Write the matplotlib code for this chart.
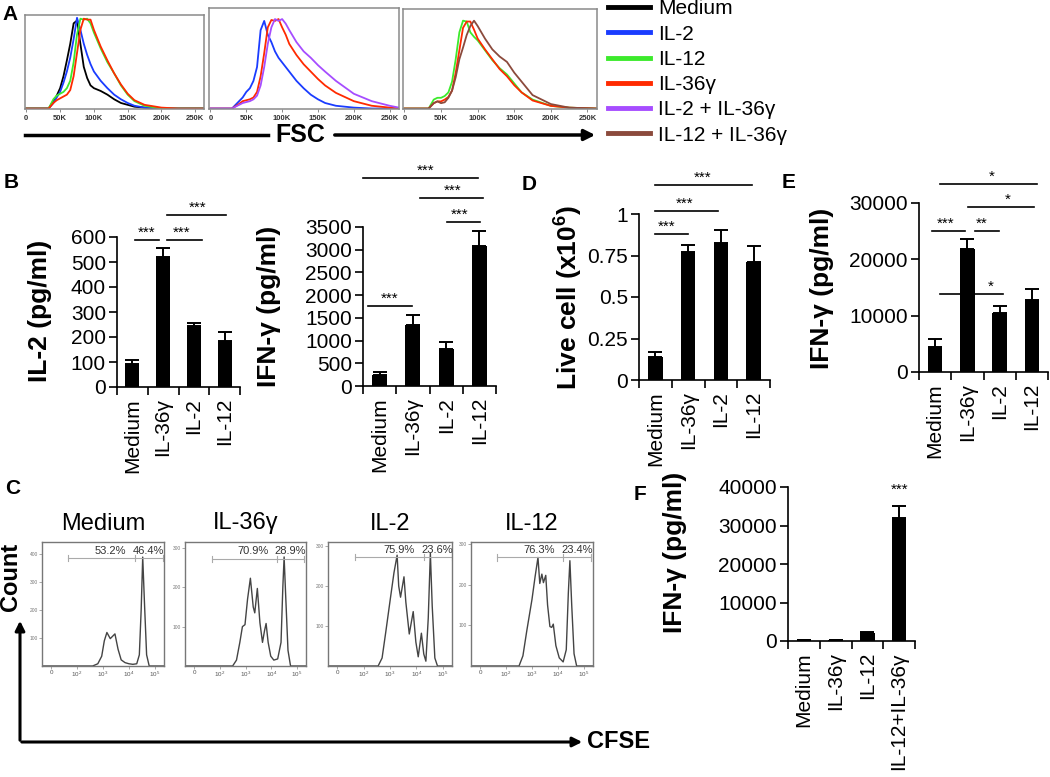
import numpy as np
import matplotlib
matplotlib.use("Agg")
import matplotlib.pyplot as plt

plt.rcParams["font.family"] = ["Liberation Sans", "DejaVu Sans"]
plt.rcParams["mathtext.fontset"] = "custom"
plt.rcParams["mathtext.rm"] = "Liberation Sans"
plt.rcParams["mathtext.bf"] = "Liberation Sans:bold"

W, H = 1050, 777

# ---------------- A: FSC histograms (% of mode), x in K ----------------
fsc_x1 = [0, 33, 40, 45, 50, 55, 60, 65, 70, 75, 80, 85, 90, 95, 100, 110, 120, 130, 140, 150, 160, 175, 200, 225, 262]
fsc_medium = [0, 0, 8, 14, 22, 35, 52, 70, 92, 95, 70, 45, 33, 25, 22, 19, 15, 10, 6, 4, 2, 1, 0, 0, 0]
fsc_il2_a = [0, 0, 6, 12, 18, 28, 40, 55, 75, 98, 85, 70, 58, 48, 40, 30, 22, 15, 10, 6, 3, 1, 0, 0, 0]
fsc_il12_a = [0, 0, 10, 14, 16, 18, 22, 30, 50, 80, 97, 96, 97, 92, 82, 65, 50, 38, 25, 15, 8, 3, 0, 0, 0]
fsc_il36_a = [0, 0, 6, 9, 11, 13, 15, 20, 35, 60, 85, 97, 96, 96, 85, 67, 52, 38, 26, 16, 9, 4, 1, 0, 0]

fsc_x2 = [0, 30, 40, 45, 50, 55, 60, 65, 70, 75, 80, 85, 90, 95, 100, 105, 110, 120, 130, 140, 150, 160, 175, 200, 225, 250, 263]
fsc_il2_b = [0, 0, 8, 12, 18, 22, 30, 45, 85, 95, 80, 72, 62, 55, 50, 45, 40, 30, 22, 15, 10, 6, 3, 1, 0, 0, 0]
fsc_il36_b = [0, 0, 5, 8, 9, 10, 12, 18, 35, 60, 88, 96, 95, 97, 88, 80, 70, 58, 48, 40, 32, 25, 17, 8, 3, 1, 0]
fsc_il2_il36 = [0, 0, 4, 6, 7, 8, 10, 14, 25, 45, 70, 88, 97, 95, 97, 92, 85, 72, 62, 55, 47, 40, 30, 16, 8, 3, 1]

fsc_x3 = [0, 33, 40, 45, 50, 55, 60, 65, 70, 75, 80, 85, 90, 95, 100, 110, 120, 130, 140, 150, 160, 175, 200, 225, 263]
fsc_il12_c = [0, 0, 10, 12, 12, 14, 18, 30, 55, 85, 98, 97, 85, 80, 76, 65, 54, 45, 38, 28, 18, 10, 3, 1, 0]
fsc_il36_c = [0, 0, 6, 8, 8, 10, 13, 20, 40, 65, 90, 97, 97, 88, 78, 66, 55, 44, 36, 26, 18, 9, 3, 1, 0]
fsc_il12_il36 = [0, 0, 6, 8, 6, 7, 12, 20, 35, 55, 68, 82, 92, 98, 92, 78, 66, 58, 52, 40, 30, 15, 5, 1, 0]

fsc_ticks = [0, 50, 100, 150, 200, 250]
fsc_ticklabels = ["0", "50K", "100K", "150K", "200K", "250K"]

legend_labels = ["Medium", "IL-2", "IL-12", "IL-36γ", "IL-2 + IL-36γ", "IL-12 + IL-36γ"]
legend_colors = ["#000000", "#1a3cff", "#3cea2c", "#ff2a00", "#a64dff", "#8b4a3c"]

# ---------------- B ----------------
b_cats = ["Medium", "IL-36γ", "IL-2", "IL-12"]
b_il2 = [92, 520, 244, 184]
b_il2_err = [16, 36, 12, 36]
b_il2_sig = [(0.07, 0.88, 588, 0.47, "***"), (1.14, 2.25, 588, 1.6, "***"), (1.14, 3.03, 688, 2.13, "***")]
b_ifn = [240, 1343, 815, 3082]
b_ifn_err = [70, 220, 155, 330]
b_ifn_sig = [(-0.5, 2.96, 4580, 1.37, "***"), (1.22, 3.11, 4140, 2.18, "***"),
             (2.03, 3.02, 3610, 2.42, "***"), (-0.35, 0.98, 1760, 0.31, "***")]

# ---------------- D ----------------
d_cats = ["Medium", "IL-36γ", "IL-2", "IL-12"]
d_live = [0.139, 0.771, 0.825, 0.711]
d_live_err = [0.03, 0.042, 0.079, 0.096]
d_sig = [(0.0, 1.0, 0.88, 0.35, "***"), (0.0, 1.91, 1.018, 0.9, "***"), (0.0, 2.95, 1.175, 1.45, "***")]

# ---------------- E ----------------
e_cats = ["Medium", "IL-36γ", "IL-2", "IL-12"]
e_ifn = [4440, 21830, 10470, 12780]
e_ifn_err = [1420, 1780, 1250, 1950]
e_sig = [(-0.1, 0.93, 25030, 0.31, "***"), (1.24, 1.98, 25030, 1.45, "**"),
         (0.15, 2.1, 13850, 1.73, "*"), (0.15, 3.16, 33370, 1.76, "*"), (1.02, 3.07, 29290, 2.26, "*")]

# ---------------- F ----------------
f_cats = ["Medium", "IL-36γ", "IL-12", "IL-12+IL-36γ"]
f_ifn = [200, 150, 2200, 31900]
f_ifn_err = [0, 0, 150, 3100]

# ---------------- C: CFSE histograms (x in decades) ----------------
c_titles = ["Medium", "IL-36γ", "IL-2", "IL-12"]
c_medium_x = [0.65, 2.6, 2.8, 2.95, 3.05, 3.15, 3.28, 3.46, 3.58, 3.7, 3.85, 4.0, 4.15, 4.3, 4.4, 4.47, 4.53, 4.6, 4.68, 4.78, 5.35]
c_medium_y = [0, 0, 8, 35, 90, 120, 98, 115, 60, 22, 12, 8, 6, 8, 40, 200, 390, 220, 40, 0, 0]
c_il36_x = [0.65, 2.5, 2.65, 2.78, 2.88, 2.98, 3.08, 3.19, 3.3, 3.36, 3.46, 3.56, 3.66, 3.74, 3.8, 3.88, 3.98, 4.1, 4.25, 4.38, 4.45, 4.5, 4.56, 4.65, 4.75, 5.35]
c_il36_y = [0, 0, 15, 60, 100, 105, 170, 223, 150, 135, 197, 110, 60, 90, 108, 60, 25, 15, 18, 60, 200, 277, 180, 40, 0, 0]
c_il2_x = [0.65, 2.55, 2.7, 2.84, 3.0, 3.15, 3.27, 3.33, 3.4, 3.53, 3.6, 3.73, 3.88, 3.98, 4.07, 4.19, 4.28, 4.36, 4.45, 4.53, 4.6, 4.7, 4.8, 5.35]
c_il2_y = [0, 0, 20, 85, 162, 233, 277, 200, 172, 223, 160, 80, 136, 60, 23, 82, 30, 12, 120, 282, 150, 20, 0, 0]
c_il12_x = [0.65, 2.5, 2.65, 2.8, 3.0, 3.12, 3.23, 3.3, 3.38, 3.44, 3.53, 3.6, 3.69, 3.76, 3.82, 3.92, 4.05, 4.2, 4.32, 4.4, 4.46, 4.53, 4.62, 4.72, 5.35]
c_il12_y = [0, 0, 25, 87, 164, 220, 267, 203, 226, 205, 223, 150, 97, 95, 103, 50, 20, 10, 40, 180, 259, 150, 30, 0, 0]
c_gates = [(1.65, 4.23, 5.3), (1.69, 4.23, 5.27), (1.69, 4.27, 5.34), (1.65, 4.19, 5.27)]
c_gate_y = [386, 272, 272, 267]
c_pcts = [("53.2%", "46.4%"), ("70.9%", "28.9%"), ("75.9%", "23.6%"), ("76.3%", "23.4%")]
c_ymax = [444, 315, 310, 305]
c_yticks = [[100, 200, 300, 400], [100, 200, 300], [100, 200, 300], [100, 200, 300]]
c_xticks = [1, 2, 3, 4, 5]
c_xticklabels = ["0", "$10^2$", "$10^3$", "$10^4$", "$10^5$"]


def rect(x0, y0, x1, y1):
    return [x0 / W, 1 - y1 / H, (x1 - x0) / W, (y1 - y0) / H]


def fsc_panel(ax, x, series, ymax):
    for y, c in series:
        ax.plot(x, y, color=c, lw=1.3)
    ax.set_xlim(-2, 263)
    ax.set_ylim(-0.5, ymax)
    ax.set_xticks(fsc_ticks)
    ax.set_xticklabels(fsc_ticklabels, fontsize=5.5, fontweight="bold", color="#333333")
    ax.set_yticks([])
    ax.tick_params(axis="x", length=2, width=0.6, color="#777777", pad=2)
    for s in ax.spines.values():
        s.set_color("#8a8a8a")
        s.set_linewidth(1.1)


def bar_panel(ax, cats, vals, errs, ymax, yticks, yticklabels=None, sig=()):
    n = len(cats)
    x = np.arange(n)
    ax.bar(x, vals, width=0.45, color="black", zorder=2)
    ax.errorbar(x, vals, yerr=[np.zeros(n), errs], fmt="none", ecolor="black",
                elinewidth=1.4, capsize=5, capthick=1.4, zorder=2)
    ax.set_xlim(-0.5, n - 0.5)
    ax.set_ylim(0, ymax)
    ax.set_yticks(yticks)
    if yticklabels is not None:
        ax.set_yticklabels(yticklabels)
    ax.set_xticks(np.arange(-0.5, n, 1.0))
    ax.set_xticklabels([])
    ax.set_xticks(x, minor=True)
    ax.set_xticklabels(cats, minor=True, rotation=90, fontsize=15)
    ax.tick_params(axis="x", which="minor", length=0, pad=8)
    ax.tick_params(axis="x", which="major", length=6, width=1.2)
    ax.tick_params(axis="y", length=6, width=1.2, labelsize=15, pad=2)
    for s in ("top", "right"):
        ax.spines[s].set_visible(False)
    for s in ("left", "bottom"):
        ax.spines[s].set_linewidth(1.2)
    for x1, x2, y, xt, lab in sig:
        ax.plot([x1, x2], [y, y], color="black", lw=1.2, clip_on=False, zorder=3)
        ax.text(xt, y, lab, ha="center", va="bottom", fontsize=11, clip_on=False)


def cfse_panel(ax, x, y, gate, gy, pcts, ymax, yticks, title):
    ax.plot(x, y, color="#444444", lw=1.0)
    ax.set_xlim(0.65, 5.35)
    ax.set_ylim(0, ymax)
    g0, g1, g2 = gate
    ax.plot([g0, g1], [gy, gy], color="#aaaaaa", lw=0.8)
    ax.plot([g1, g2], [gy, gy], color="#aaaaaa", lw=0.8)
    for gx in gate:
        ax.plot([gx, gx], [gy - ymax * 0.025, gy + ymax * 0.025], color="#aaaaaa", lw=0.8)
    ax.text((g0 + g1) / 2 + 0.35, gy + ymax * 0.02, pcts[0], ha="center", va="bottom", fontsize=8, color="#333333")
    ax.text((g1 + g2) / 2, gy + ymax * 0.02, pcts[1], ha="center", va="bottom", fontsize=8, color="#333333")
    ax.set_xticks(c_xticks)
    ax.set_xticklabels(c_xticklabels, fontsize=4.5, color="#555555")
    ax.set_yticks(yticks)
    ax.set_yticklabels([str(t) for t in yticks], fontsize=3.5, color="#777777")
    ax.tick_params(length=2, width=0.5, color="#888888", pad=1)
    for s in ax.spines.values():
        s.set_color("#777777")
        s.set_linewidth(1.0)
    ax.set_title(title, fontsize=17, pad=9)


fig = plt.figure(figsize=(W / 100, H / 100), dpi=100)

# overlay for arrows/labels in pixel coordinates
ov = fig.add_axes([0, 0, 1, 1], zorder=-1)
ov.set_xlim(0, W)
ov.set_ylim(H, 0)
ov.axis("off")

# ---- A ----
axA1 = fig.add_axes(rect(25, 15, 204, 109))
fsc_panel(axA1, fsc_x1, [(fsc_medium, legend_colors[0]), (fsc_il2_a, legend_colors[1]),
                         (fsc_il12_a, legend_colors[2]), (fsc_il36_a, legend_colors[3])], 101)
axA2 = fig.add_axes(rect(209, 8, 399, 109))
fsc_panel(axA2, fsc_x2, [(fsc_il2_b, legend_colors[1]), (fsc_il36_b, legend_colors[3]),
                         (fsc_il2_il36, legend_colors[4])], 109)
axA3 = fig.add_axes(rect(403, 9, 597, 109))
fsc_panel(axA3, fsc_x3, [(fsc_il12_c, legend_colors[2]), (fsc_il36_c, legend_colors[3]),
                         (fsc_il12_il36, legend_colors[5])], 111)

handles = [plt.Line2D([], [], color=c, lw=3.5) for c in legend_colors]
fig.legend(handles, legend_labels, loc="upper left", bbox_to_anchor=(600 / W, 1 + 9 / H),
           frameon=False, fontsize=15, handlelength=2.0, handletextpad=0.4, labelspacing=0.3,
           borderaxespad=0)

ov.plot([25, 268], [135, 135], color="black", lw=2.5)
ov.text(300, 135, "FSC", fontsize=18, fontweight="bold", ha="center", va="center")
ov.annotate("", xy=(598, 135), xytext=(332, 135),
            arrowprops=dict(arrowstyle="-|>", lw=2.5, color="black", mutation_scale=16))

# ---- B ----
axB1 = fig.add_axes(rect(117, 237, 240, 387))
bar_panel(axB1, b_cats, b_il2, b_il2_err, 600, [0, 100, 200, 300, 400, 500, 600], sig=b_il2_sig)
axB2 = fig.add_axes(rect(363, 227, 496, 386))
bar_panel(axB2, b_cats, b_ifn, b_ifn_err, 3500, [0, 500, 1000, 1500, 2000, 2500, 3000, 3500], sig=b_ifn_sig)

# ---- D ----
axD = fig.add_axes(rect(639, 214, 770, 380))
bar_panel(axD, d_cats, d_live, d_live_err, 1, [0, 0.25, 0.5, 0.75, 1],
          ["0", "0.25", "0.5", "0.75", "1"], sig=d_sig)

# ---- E ----
axE = fig.add_axes(rect(919, 203, 1048, 372))
bar_panel(axE, e_cats, e_ifn, e_ifn_err, 30000, [0, 10000, 20000, 30000], sig=e_sig)

# ---- F ----
axF = fig.add_axes(rect(788, 487, 915, 641))
bar_panel(axF, f_cats, f_ifn, f_ifn_err, 40000, [0, 10000, 20000, 30000, 40000])
axF.text(3, 37500, "***", ha="center", va="bottom", fontsize=11)

# ---- C ----
c_boxes = [(42, 164), (185, 306), (328, 452), (471, 593)]
c_data = [(c_medium_x, c_medium_y), (c_il36_x, c_il36_y), (c_il2_x, c_il2_y), (c_il12_x, c_il12_y)]
for i, (x0, x1) in enumerate(c_boxes):
    ax = fig.add_axes(rect(x0, 542, x1, 666))
    cfse_panel(ax, c_data[i][0], c_data[i][1], c_gates[i], c_gate_y[i], c_pcts[i],
               c_ymax[i], c_yticks[i], c_titles[i])

ov.annotate("", xy=(20, 618), xytext=(20, 743),
            arrowprops=dict(arrowstyle="-|>", lw=2.2, color="black", mutation_scale=14))
ov.annotate("", xy=(585, 742), xytext=(19, 742),
            arrowprops=dict(arrowstyle="-|>", lw=2.2, color="black", mutation_scale=14))
ov.text(618, 742, "CFSE", fontsize=17, fontweight="bold", ha="center", va="center")
fig.text(11 / W, 1 - 577 / H, "Count", fontsize=17, fontweight="bold", rotation=90, ha="center", va="center")

# ---- y labels ----
ylab = [(40, 311, "IL-2 (pg/ml)"), (269, 306, "IFN-γ (pg/ml)"),
        (568, 298, r"Live cell (x10$^{\mathbf{6}}$)"), (822, 288, "IFN-γ (pg/ml)"),
        (675, 552, "IFN-γ (pg/ml)")]
for x, y, t in ylab:
    fig.text(x / W, 1 - y / H, t, fontsize=19, fontweight="bold", rotation=90, ha="center", va="center")

# ---- panel letters ----
for x, y, t in [(10, 14, "A"), (11, 183, "B"), (13, 489, "C"), (529, 185, "D"), (789, 183, "E"), (640, 495, "F")]:
    fig.text(x / W, 1 - y / H, t, fontsize=15, fontweight="bold", ha="center", va="center")

fig.savefig("out.png", dpi=100)
